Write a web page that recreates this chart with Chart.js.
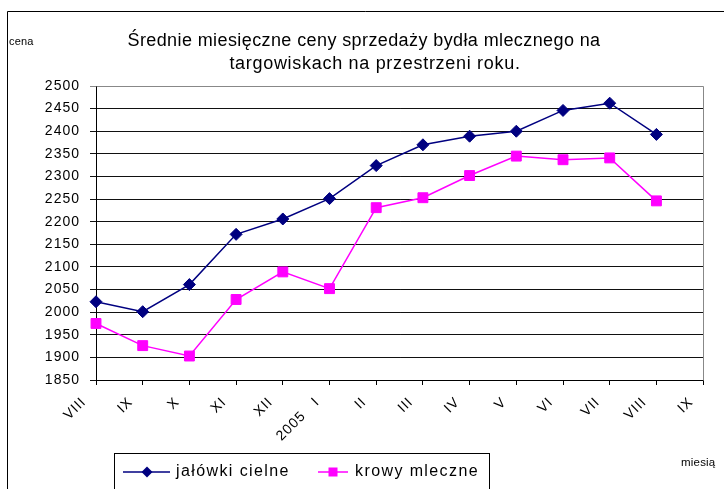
<!DOCTYPE html>
<html><head><meta charset="utf-8">
<script src="https://cdn.jsdelivr.net/npm/chart.js@4/dist/chart.umd.min.js"></script>
<style>html,body{margin:0;padding:0;background:#fff;overflow:hidden}canvas{display:block}</style>
</head><body>
<canvas id="c" width="724" height="489"></canvas>
<script>
const categories = ['VIII','IX','X','XI','XII','2005   I','II','III','IV','V','VI','VII','VIII','IX'];
const jalowkiCielne = [2023,2001,2061,2172,2206,2251,2324,2370,2389,2400,2446,2462,2393,null];
const krowyMleczne = [1975,1926,1903,2028,2089,2052,2231,2253,2302,2345,2337,2341,2246,null];
const seriesNames = ['jałówki cielne','krowy mleczne'];
const titleLines = ['Średnie miesięczne ceny sprzedaży bydła mlecznego na','targowiskach na przestrzeni roku.'];
const yAxisTitle = 'cena';
const xAxisTitle = 'miesią';
const yMin = 1850, yMax = 2500, yStep = 50;

const FONT = "'Liberation Sans', Arial, sans-serif";
const NAVY = '#000080', MAG = '#FF00FF';

const decor = {
  id: 'decor',
  beforeUpdate(chart){ chart.ctx.letterSpacing = '1px'; },
  beforeDraw(chart){
    const c = chart.ctx;
    c.save(); c.fillStyle = '#fff'; c.fillRect(0,0,chart.width,chart.height); c.restore();
    c.letterSpacing = '1px';
  },
  afterDraw(chart){
    const c = chart.ctx, a = chart.chartArea;
    c.save();
    c.strokeStyle = '#888'; c.lineWidth = 1;
    c.beginPath();
    c.moveTo(Math.round(a.left)+0.5, Math.round(a.top)+0.5);
    c.lineTo(Math.round(a.right)+0.5, Math.round(a.top)+0.5);
    c.lineTo(Math.round(a.right)+0.5, Math.round(a.bottom)+0.5);
    c.stroke();
    c.strokeStyle = '#000';
    c.beginPath(); c.moveTo(7.5, 489); c.lineTo(7.5, 11.5); c.lineTo(724, 11.5); c.stroke();
    c.fillStyle = '#000';
    c.textBaseline = 'middle'; c.textAlign = 'center';
    c.font = `18px ${FONT}`; c.letterSpacing = '0.4px';
    c.fillText(titleLines[0], 364, 41);
    c.letterSpacing = '0.7px';
    c.fillText(titleLines[1], 375, 64);
    c.textAlign = 'left'; c.font = `11px ${FONT}`; c.letterSpacing = '0.2px';
    c.fillText(yAxisTitle, 9, 42);
    c.font = `11.5px ${FONT}`;
    c.fillText(xAxisTitle, 681, 463);
    c.strokeStyle = '#000'; c.lineWidth = 1;
    c.strokeRect(114.5, 453.5, 375, 60);
    const ly = 472;
    c.lineWidth = 1.5;
    c.strokeStyle = NAVY; c.beginPath(); c.moveTo(123, ly); c.lineTo(170, ly); c.stroke();
    c.fillStyle = NAVY; c.beginPath(); c.moveTo(147, ly-5.5); c.lineTo(152.5, ly); c.lineTo(147, ly+5.5); c.lineTo(141.5, ly); c.closePath(); c.fill();
    c.strokeStyle = MAG; c.beginPath(); c.moveTo(318, ly); c.lineTo(348, ly); c.stroke();
    c.fillStyle = MAG; c.fillRect(328.5, ly-4.5, 9, 9);
    c.fillStyle = '#000'; c.font = `16px ${FONT}`; c.letterSpacing = '1.4px';
    c.fillText(seriesNames[0], 176, ly);
    c.fillText(seriesNames[1], 355, ly);
    c.restore();
  }
};

Chart.defaults.font.family = FONT;
Chart.defaults.color = '#000';

new Chart(document.getElementById('c'), {
  type: 'line',
  data: {
    labels: categories,
    datasets: [
      { label: seriesNames[0], data: jalowkiCielne, borderColor: NAVY, backgroundColor: NAVY,
        borderWidth: 1.5, pointStyle: 'rectRot', pointRadius: 6, pointBorderWidth: 1,
        pointBackgroundColor: NAVY, pointBorderColor: NAVY, tension: 0, fill: false },
      { label: seriesNames[1], data: krowyMleczne, borderColor: MAG, backgroundColor: MAG,
        borderWidth: 1.5, pointStyle: 'rect', pointRadius: 7, pointBorderWidth: 1,
        pointBackgroundColor: MAG, pointBorderColor: MAG, tension: 0, fill: false }
    ]
  },
  options: {
    responsive: false, animation: false, devicePixelRatio: 1,
    layout: { padding: { left: 8, top: 86, right: 14, bottom: 0 } },
    plugins: { legend: { display: false }, title: { display: false }, tooltip: { enabled: false } },
    scales: {
      x: {
        offset: false,
        grid: { drawOnChartArea: false, drawTicks: true, tickLength: 5, color: '#000', lineWidth: 1 },
        border: { color: '#000', width: 1 },
        ticks: { minRotation: 45, maxRotation: 45, autoSkip: false, padding: 9, labelOffset: -12,
                 font: { size: 14 }, color: '#000' },
        afterFit(s){ s.height = 109; }
      },
      y: {
        min: yMin, max: yMax,
        grid: { color: (ctx) => ctx.tick && ctx.tick.value === yMax ? '#888' : '#111', lineWidth: 1, tickLength: 6 },
        border: { color: '#000', width: 1 },
        ticks: { stepSize: yStep, padding: 10, font: { size: 14 }, color: '#000', callback: (v) => String(v) },
        afterFit(s){ s.width = 88; }
      }
    }
  },
  plugins: [decor]
});
</script>
</body></html>
